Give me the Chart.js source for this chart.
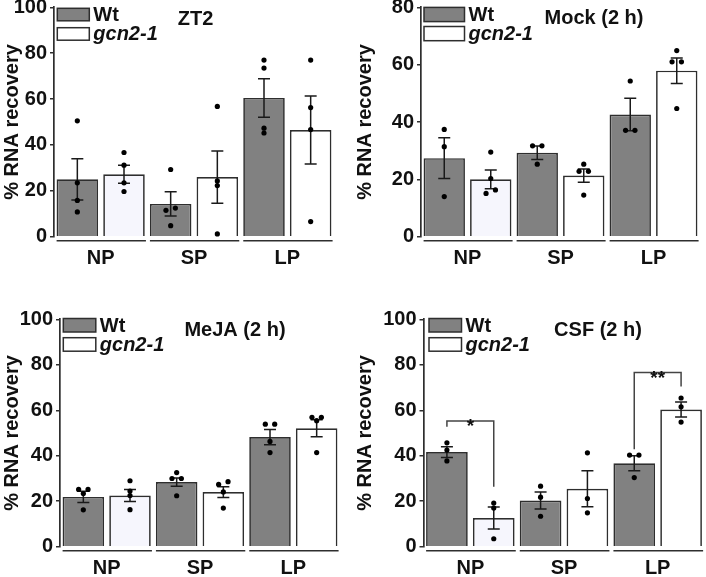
<!DOCTYPE html>
<html>
<head>
<meta charset="utf-8">
<script src="https://cdn.jsdelivr.net/npm/chart.js@4.4.1/dist/chart.umd.min.js"></script>
<style>
  html, body { margin: 0; padding: 0; background: #fff; overflow: hidden; }
  #wrap { position: relative; width: 706px; height: 577px; overflow: hidden; }
  canvas { position: absolute; }
</style>
</head>
<body>
<div id="wrap">
  <canvas id="c1"></canvas>
  <canvas id="c2"></canvas>
  <canvas id="c3"></canvas>
  <canvas id="c4"></canvas>
</div>
<script>
const categories = ['NP', 'SP', 'LP'];
const seriesLabels = ['Wt', 'gcn2-1'];
const yTicks100 = [0, 20, 40, 60, 80, 100];
const yTicks80 = [0, 20, 40, 60, 80];

// ZT2
const zt2WtMean = [25, 14.3, 60.5];
const zt2WtSem = [9, 5.3, 8.4];
const zt2GcnMean = [27.2, 26, 46.5];
const zt2GcnSem = [3.9, 11.4, 14.8];
const zt2WtPts = [[50.5, 23.5, 15.8, 10.8], [29.3, 12.5, 11.5, 4.8], [77, 73.5, 47.3, 45.2]];
const zt2GcnPts = [[36.7, 31.2, 23.5, 19.7], [56.8, 24.3, 22.3, 1.2], [77, 56.3, 46.7, 6.6]];

// Mock (2 h)
const mockWtMean = [27.4, 29.3, 42.6];
const mockWtSem = [7.1, 2.35, 5.65];
const mockGcnMean = [20, 21.3, 57.9];
const mockGcnSem = [3.3, 2.35, 4.45];
const mockWtPts = [[37.4, 31.4, 14.0], [31.7, 31.7, 25.3], [54.3, 37.1, 37.1]];
const mockGcnPts = [[29.5, 20.3, 16.3, 15.1], [25.3, 22.8, 22.8, 14.5], [64.9, 61, 61, 44.7]];

// MeJA (2 h)
const mejaWtMean = [21.9, 28.4, 48.2];
const mejaWtSem = [2.5, 1.85, 3.35];
const mejaGcnMean = [22.5, 24, 52.1];
const mejaGcnSem = [2.65, 2.4, 3.7];
const mejaWtPts = [[25.2, 25.2, 23.4, 16.2], [32.6, 30, 30, 22.4], [53.9, 53.9, 46.3, 41.4]];
const mejaGcnPts = [[29, 24.5, 22.5, 16.3], [28.6, 27.4, 24.1, 17], [56.9, 56.9, 55.4, 41.4]];

// CSF (2 h)
const csfWtMean = [41.6, 20.3, 36.7];
const csfWtSem = [2.4, 3.75, 3.35];
const csfGcnMean = [12.6, 25.5, 60.3];
const csfGcnSem = [4.85, 7.9, 3.3];
const csfWtPts = [[45.7, 42.5, 37.7], [26.6, 21.8, 13.4], [40.3, 40.3, 30.4]];
const csfGcnPts = [[19.2, 17.0, 3.5], [41.3, 21.2, 14.9], [65.4, 61.5, 54.8]];
const csfBrackets = [
  { cat: 0, top: 55.3, leftEnd: 52.8, rightEnd: 26.4, text: '*' },
  { cat: 2, top: 76.6, leftEnd: 42.8, rightEnd: 70.4, text: '**' }
];

const FONT = "'Liberation Sans', Arial, sans-serif";
const EDGE = '#2e2e2e';
const WT_FILL = '#818181';
const GCN_FILL = ['#f6f6fd', '#ffffff', '#ffffff'];

const panels = [
  { id: 'c1', x0: 0, area: { l: 54, r: 334, t: 7.3, b: 236.7 }, yMax: 100, ticks: yTicks100,
    title: 'ZT2', titleX: 195.5, titleY: 19,
    legend: { x: 57.3, w: 32, h: 12.5, y1: 8.3, y2: 27.7 },
    wt: { mean: zt2WtMean, sem: zt2WtSem, pts: zt2WtPts },
    gcn: { mean: zt2GcnMean, sem: zt2GcnSem, pts: zt2GcnPts }, brackets: [] },
  { id: 'c2', x0: 353, area: { l: 421, r: 700, t: 7.3, b: 236.7 }, yMax: 80, ticks: yTicks80,
    title: 'Mock (2 h)', titleX: 594, titleY: 18.3,
    legend: { x: 424, w: 40.5, h: 14.2, y1: 7.4, y2: 26.5 },
    wt: { mean: mockWtMean, sem: mockWtSem, pts: mockWtPts },
    gcn: { mean: mockGcnMean, sem: mockGcnSem, pts: mockGcnPts }, brackets: [] },
  { id: 'c3', x0: 0, area: { l: 60, r: 340, t: 319.3, b: 546.7 }, yMax: 100, ticks: yTicks100,
    title: 'MeJA (2 h)', titleX: 235, titleY: 330.5,
    legend: { x: 63.3, w: 32.5, h: 13.5, y1: 318.5, y2: 337.7 },
    wt: { mean: mejaWtMean, sem: mejaWtSem, pts: mejaWtPts },
    gcn: { mean: mejaGcnMean, sem: mejaGcnSem, pts: mejaGcnPts }, brackets: [] },
  { id: 'c4', x0: 353, area: { l: 423.5, r: 704.5, t: 319.3, b: 546.7 }, yMax: 100, ticks: yTicks100,
    title: 'CSF (2 h)', titleX: 598, titleY: 330.5,
    legend: { x: 429, w: 32.5, h: 13.5, y1: 318.5, y2: 337.7 },
    wt: { mean: csfWtMean, sem: csfWtSem, pts: csfWtPts },
    gcn: { mean: csfGcnMean, sem: csfGcnSem, pts: csfGcnPts }, brackets: csfBrackets }
];

// spread dots that nearly coincide in value
function jitter(vals) {
  const idx = vals.map((v, i) => i).sort((a, b) => vals[a] - vals[b]);
  const off = new Array(vals.length).fill(0);
  let group = [idx[0]];
  const flush = () => {
    group.forEach((g, k) => { off[g] = (k - (group.length - 1) / 2) * 9.4; });
  };
  for (let k = 1; k < idx.length; k++) {
    if (vals[idx[k]] - vals[group[group.length - 1]] < 1.3) group.push(idx[k]);
    else { flush(); group = [idx[k]]; }
  }
  flush();
  return off;
}

function makeDecor(p, ox, oy) {
  return {
    id: 'decor',
    afterDatasetsDraw(chart) {
      const ctx = chart.ctx, ys = chart.scales.y;
      ctx.save();
      [p.wt, p.gcn].forEach((s, di) => {
        chart.getDatasetMeta(di).data.forEach((bar, j) => {
          const cx = bar.x;
          const hi = ys.getPixelForValue(s.mean[j] + s.sem[j]);
          const lo = ys.getPixelForValue(s.mean[j] - s.sem[j]);
          ctx.strokeStyle = '#1a1a1a';
          ctx.lineWidth = 1.5;
          ctx.beginPath();
          ctx.moveTo(cx, hi); ctx.lineTo(cx, lo);
          ctx.moveTo(cx - 6, hi); ctx.lineTo(cx + 6, hi);
          ctx.moveTo(cx - 6, lo); ctx.lineTo(cx + 6, lo);
          ctx.stroke();
          const off = jitter(s.pts[j]);
          ctx.fillStyle = '#000';
          s.pts[j].forEach((v, k) => {
            ctx.beginPath();
            ctx.arc(cx + off[k], ys.getPixelForValue(v), 2.6, 0, Math.PI * 2);
            ctx.fill();
          });
        });
      });
      ctx.restore();
    },
    afterDraw(chart) {
      const ctx = chart.ctx, xs = chart.scales.x, ys = chart.scales.y, a = chart.chartArea;
      ctx.save();
      // category underlines
      const slot = (a.right - a.left) / categories.length;
      ctx.strokeStyle = EDGE;
      ctx.lineWidth = 1.5;
      categories.forEach((c, j) => {
        const cx = xs.getPixelForValue(j);
        ctx.beginPath();
        ctx.moveTo(cx - slot / 2 + 2.6, a.bottom + 4);
        ctx.lineTo(cx + slot / 2 - 1.4, a.bottom + 4);
        ctx.stroke();
      });
      // legend
      const L = p.legend;
      chart.data.datasets.forEach((ds, di) => {
        const by = (di === 0 ? L.y1 : L.y2) - oy;
        const bx = L.x - ox;
        ctx.fillStyle = di === 0 ? WT_FILL : '#ffffff';
        ctx.fillRect(bx, by, L.w, L.h);
        ctx.strokeStyle = EDGE;
        ctx.lineWidth = 1.5;
        ctx.strokeRect(bx, by, L.w, L.h);
        ctx.fillStyle = '#111';
        ctx.font = (di === 0 ? '' : 'italic ') + 'bold 20px ' + FONT;
        ctx.textAlign = 'left';
        ctx.textBaseline = 'middle';
        ctx.fillText(ds.label, bx + L.w + 4, by + L.h / 2 + 1);
      });
      // panel title
      ctx.font = 'bold 20px ' + FONT;
      ctx.textAlign = 'center';
      ctx.textBaseline = 'middle';
      ctx.fillText(p.title, p.titleX - ox, p.titleY - oy);
      // significance brackets
      p.brackets.forEach(br => {
        const x1 = chart.getDatasetMeta(0).data[br.cat].x;
        const x2 = chart.getDatasetMeta(1).data[br.cat].x;
        const yt = ys.getPixelForValue(br.top);
        ctx.strokeStyle = '#444';
        ctx.lineWidth = 1.5;
        ctx.beginPath();
        ctx.moveTo(x1, ys.getPixelForValue(br.leftEnd));
        ctx.lineTo(x1, yt);
        ctx.lineTo(x2, yt);
        ctx.lineTo(x2, ys.getPixelForValue(br.rightEnd));
        ctx.stroke();
        ctx.fillStyle = '#111';
        ctx.font = 'bold 19px ' + FONT;
        ctx.textAlign = 'center';
        ctx.textBaseline = 'alphabetic';
        ctx.fillText(br.text, (x1 + x2) / 2, yt + 11);
      });
      ctx.restore();
    }
  };
}

panels.forEach(p => {
  const a = p.area;
  const top = Math.floor(a.t - 20);
  const w = Math.ceil(a.r - p.x0 + 4);
  const h = Math.ceil(a.b - top + 40);
  const cv = document.getElementById(p.id);
  cv.width = w; cv.height = h;
  cv.style.left = p.x0 + 'px';
  cv.style.top = top + 'px';
  cv.style.width = w + 'px';
  cv.style.height = h + 'px';

  new Chart(cv, {
    type: 'bar',
    data: {
      labels: categories,
      datasets: [{
        label: seriesLabels[0], data: p.wt.mean,
        backgroundColor: WT_FILL, borderColor: EDGE, borderWidth: 1.7,
        barPercentage: 0.89, categoryPercentage: 1
      }, {
        label: seriesLabels[1], data: p.gcn.mean,
        backgroundColor: GCN_FILL, borderColor: EDGE, borderWidth: 1.7,
        barPercentage: 0.89, categoryPercentage: 1
      }]
    },
    options: {
      responsive: false,
      animation: false,
      devicePixelRatio: 1,
      layout: { padding: { top: a.t - top, right: w - (a.r - p.x0), left: 0, bottom: 0 } },
      plugins: { legend: { display: false }, tooltip: { enabled: false } },
      scales: {
        x: {
          grid: { display: false, drawTicks: false },
          border: { display: false },
          ticks: { color: '#111', font: { family: FONT, size: 20, weight: 'bold' }, padding: 10 },
          afterFit: s => { s.height = h - (a.b - top); }
        },
        y: {
          min: 0, max: p.yMax,
          afterBuildTicks: s => { s.ticks = p.ticks.map(v => ({ value: v })); },
          grid: { drawOnChartArea: false, drawTicks: true, tickLength: 4, color: EDGE, lineWidth: 1.5 },
          border: { display: true, color: EDGE, width: 1.7 },
          ticks: { color: '#111', font: { family: FONT, size: 20, weight: 'bold' }, padding: 3 },
          title: { display: true, text: '% RNA recovery', color: '#111',
                   font: { family: FONT, size: 20, weight: 'bold' }, padding: 0 },
          afterFit: s => { s.width = a.l - p.x0; }
        }
      }
    },
    plugins: [makeDecor(p, p.x0, top)]
  });
});
</script>
</body>
</html>
